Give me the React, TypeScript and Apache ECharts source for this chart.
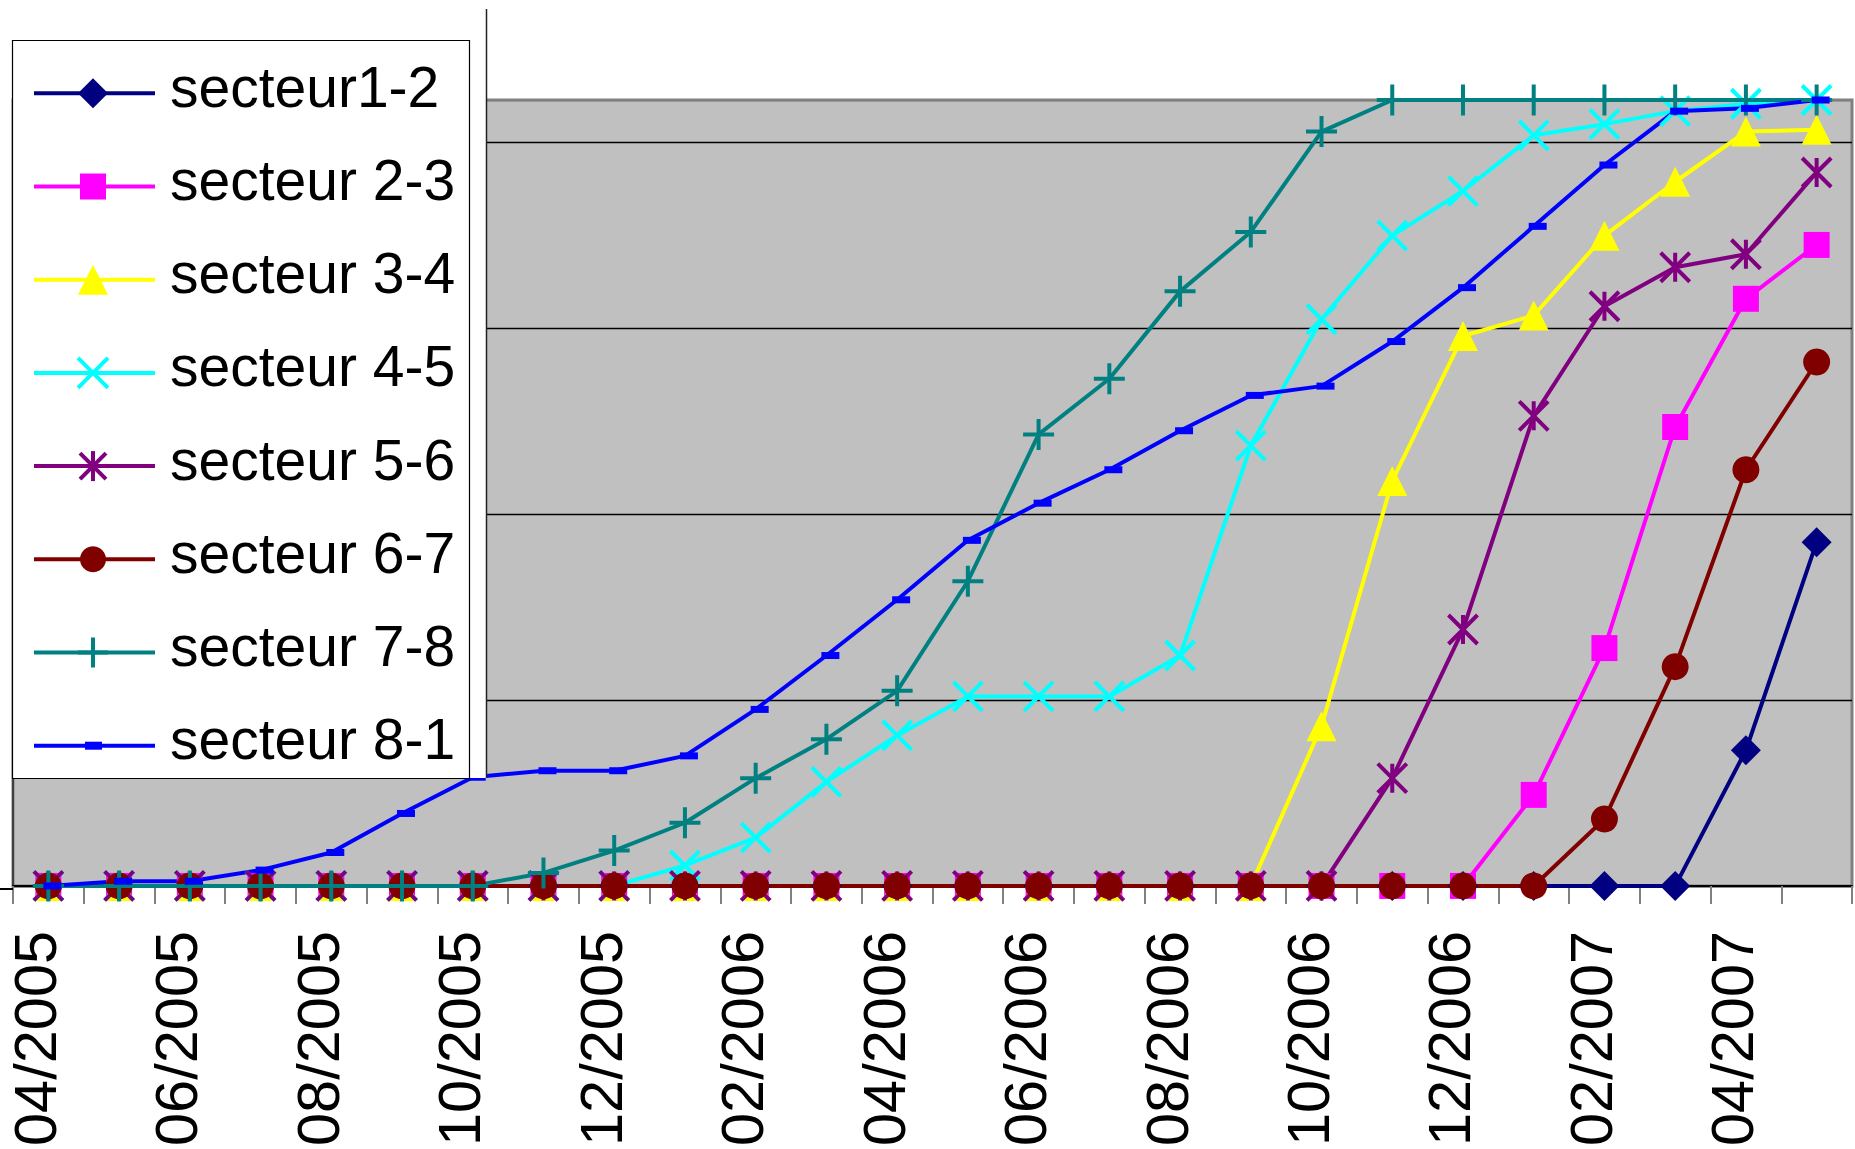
import React, { useEffect, useRef } from "react";
import * as echarts from "echarts";

const months = [
  "04/2005", "05/2005", "06/2005", "07/2005", "08/2005", "09/2005", "10/2005", "11/2005", "12/2005",
  "01/2006", "02/2006", "03/2006", "04/2006", "05/2006", "06/2006", "07/2006", "08/2006", "09/2006",
  "10/2006", "11/2006", "12/2006", "01/2007", "02/2007", "03/2007", "04/2007", "05/2007",
];

const seriesNames = [
  "secteur1-2", "secteur 2-3", "secteur 3-4", "secteur 4-5",
  "secteur 5-6", "secteur 6-7", "secteur 7-8", "secteur 8-1",
];
const seriesColors = ["#000080", "#FF00FF", "#FFFF00", "#00FFFF", "#800080", "#800000", "#008080", "#0000FF"];
const symbolKinds = ["diamond", "square", "triangle", "x", "asterisk", "circle", "plus", "dash"];

const s12 = [0, 0, 0, 0, 0, 0, 0, 0, 0, 0, 0, 0, 0, 0, 0, 0, 0, 0, 0, 0, 0, 0, 0, 0, 73, 185];
const s23 = [0, 0, 0, 0, 0, 0, 0, 0, 0, 0, 0, 0, 0, 0, 0, 0, 0, 0, 0, 0, 0, 49, 128, 247, 316, 345];
const s34 = [0, 0, 0, 0, 0, 0, 0, 0, 0, 0, 0, 0, 0, 0, 0, 0, 0, 0, 86, 218, 296, 307, 350, 379, 406, 407];
const s45 = [0, 0, 0, 0, 0, 0, 0, 0, 0, 11, 26, 56, 81, 102, 102, 102, 124, 237, 305, 350, 374, 404, 410, 417, 421, 423];
const s56 = [0, 0, 0, 0, 0, 0, 0, 0, 0, 0, 0, 0, 0, 0, 0, 0, 0, 0, 0, 58, 138, 253, 312, 333, 340, 384];
const s67 = [0, 0, 0, 0, 0, 0, 0, 0, 0, 0, 0, 0, 0, 0, 0, 0, 0, 0, 0, 0, 0, 0, 36, 118, 224, 282];
const s78 = [0, 0, 0, 0, 0, 0, 0, 7, 19, 34, 58, 79, 105, 164, 243, 273, 320, 352, 406, 423, 423, 423, 423, 423, 423, 423];
const s81 = [0, 2.5, 2.5, 8.5, 18, 39, 58.5, 62, 62, 70, 95, 124, 154, 186, 206, 224, 245, 264, 269, 293, 322, 355, 388, 417, 418.5, 423];
const seriesData = [s12, s23, s34, s45, s56, s67, s78, s81];

const yMax = 423;
const yInterval = 100;

const FONT = "'Liberation Sans', Arial, sans-serif";
const LINE_W = 4;
const MARK_W = 4;

const SYM_X = "path://M0 0L100 100M100 0L0 100";
const SYM_AST = "path://M0 0L100 100M100 0L0 100M50 0L50 100";
const SYM_PLUS = "path://M50 0L50 100M0 50L100 50";

function seriesSymbol(kind: string, color: string) {
  switch (kind) {
    case "diamond":
      return { symbol: "diamond", symbolSize: 30, itemStyle: { color, borderWidth: 0 } };
    case "square":
      return { symbol: "rect", symbolSize: 26, itemStyle: { color, borderWidth: 0 } };
    case "triangle":
      return { symbol: "triangle", symbolSize: 30, itemStyle: { color, borderWidth: 0 } };
    case "x":
      return { symbol: SYM_X, symbolSize: 29, itemStyle: { color, borderColor: color, borderWidth: MARK_W } };
    case "asterisk":
      return { symbol: SYM_AST, symbolSize: 29, itemStyle: { color, borderColor: color, borderWidth: MARK_W } };
    case "circle":
      return { symbol: "circle", symbolSize: 27, itemStyle: { color, borderWidth: 0 } };
    case "plus":
      return { symbol: SYM_PLUS, symbolSize: 31, itemStyle: { color, borderColor: color, borderWidth: MARK_W } };
    default:
      return { symbol: "rect", symbolSize: [18, 7], symbolOffset: [4, 0], itemStyle: { color, borderWidth: 0 } };
  }
}

function legendSymbol(kind: string, cx: number, cy: number, color: string): any[] {
  const ln = (x1: number, y1: number, x2: number, y2: number) => ({
    type: "line",
    z: 12,
    shape: { x1, y1, x2, y2 },
    style: { stroke: color, lineWidth: MARK_W },
  });
  const h = 15;
  switch (kind) {
    case "diamond":
      return [{ type: "polygon", z: 12, shape: { points: [[cx, cy - h], [cx + h, cy], [cx, cy + h], [cx - h, cy]] }, style: { fill: color } }];
    case "square":
      return [{ type: "rect", z: 12, shape: { x: cx - 13, y: cy - 13, width: 26, height: 26 }, style: { fill: color } }];
    case "triangle":
      return [{ type: "polygon", z: 12, shape: { points: [[cx, cy - h], [cx + h, cy + h], [cx - h, cy + h]] }, style: { fill: color } }];
    case "x":
      return [ln(cx - h, cy - h, cx + h, cy + h), ln(cx + h, cy - h, cx - h, cy + h)];
    case "asterisk":
      return [ln(cx - 13, cy - 13, cx + 13, cy + 13), ln(cx + 13, cy - 13, cx - 13, cy + 13), ln(cx, cy - h, cx, cy + h)];
    case "circle":
      return [{ type: "circle", z: 12, shape: { cx, cy, r: 13 }, style: { fill: color } }];
    case "plus":
      return [ln(cx, cy - h, cx, cy + h), ln(cx - h, cy, cx + h, cy)];
    default:
      return [{ type: "rect", z: 12, shape: { x: cx - 8, y: cy - 4, width: 17, height: 8 }, style: { fill: color } }];
  }
}

function buildLegend(): any[] {
  const els: any[] = [];
  els.push({ type: "rect", z: 10, shape: { x: 12, y: 10, width: 474, height: 768 }, style: { fill: "#FFFFFF" } });
  els.push({ type: "line", z: 11, shape: { x1: 486.5, y1: 9, x2: 486.5, y2: 778 }, style: { stroke: "#222", lineWidth: 1.5 } });
  els.push({ type: "rect", z: 11, shape: { x: 12.5, y: 40.5, width: 457, height: 738 }, style: { fill: "#FFFFFF", stroke: "#000", lineWidth: 1.2 } });
  seriesNames.forEach((name, k) => {
    const ly = 93.3 + 93.2 * k;
    const color = seriesColors[k];
    els.push({ type: "line", z: 12, shape: { x1: 34, y1: ly, x2: 155, y2: ly }, style: { stroke: color, lineWidth: LINE_W } });
    legendSymbol(symbolKinds[k], 93, ly, color).forEach((e) => els.push(e));
    els.push({
      type: "text",
      z: 12,
      x: 170,
      y: ly - 6.5,
      style: { text: name, fontSize: 57, fontFamily: FONT, fill: "#000", align: "left", verticalAlign: "middle" },
    });
  });
  // x-axis line stub extending to the left edge
  els.push({ type: "line", z: 3, shape: { x1: 0, y1: 889, x2: 13, y2: 889 }, style: { stroke: "#000", lineWidth: 2 } });
  return els;
}

export default function App() {
  const ref = useRef<HTMLDivElement>(null);
  useEffect(() => {
    if (!ref.current) return;
    const chart = echarts.init(ref.current, null, { renderer: "svg" });
    const series = seriesNames.map((name, k) => ({
      name,
      type: "line",
      data: seriesData[k],
      clip: false,
      lineStyle: { color: seriesColors[k], width: LINE_W },
      ...seriesSymbol(symbolKinds[k], seriesColors[k]),
    }));
    chart.setOption({
      animation: false,
      backgroundColor: "#FFFFFF",
      grid: {
        left: 13,
        right: 3,
        top: 100,
        bottom: 260,
        show: true,
        backgroundColor: "#C0C0C0",
        borderColor: "#808080",
        borderWidth: 3,
      },
      xAxis: {
        type: "category",
        data: months,
        boundaryGap: true,
        axisLine: { show: true, lineStyle: { color: "#000", width: 2 } },
        axisTick: { show: true, interval: 0, length: 18, lineStyle: { color: "#808080", width: 2 } },
        axisLabel: {
          interval: 1,
          rotate: 90,
          margin: 45,
          fontSize: 59.5,
          fontFamily: FONT,
          color: "#000",
          verticalAlign: "bottom",
          lineHeight: 26,
        },
        splitLine: { show: false },
      },
      yAxis: {
        type: "value",
        min: 0,
        max: yMax,
        interval: yInterval,
        axisLabel: { show: false },
        axisTick: { show: false },
        axisLine: { show: true, lineStyle: { color: "#404040", width: 2 } },
        splitLine: {
          show: true,
          lineStyle: { color: ["#000", "#000", "#000", "#000", "#000", "#808080"], width: 1.3 },
        },
      },
      series,
      graphic: buildLegend(),
    });
    return () => chart.dispose();
  }, []);
  return (
    <div
      ref={ref}
      style={{ position: "fixed", left: 0, top: 0, width: 1855, height: 1149, background: "#fff" }}
    />
  );
}
